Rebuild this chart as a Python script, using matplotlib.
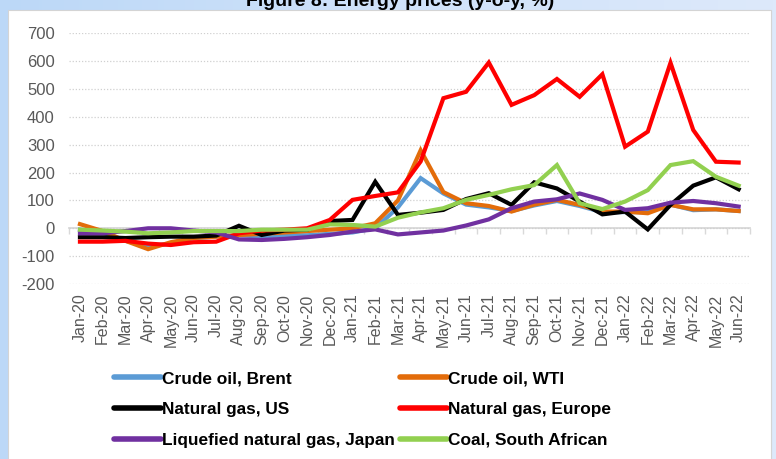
import numpy as np
import matplotlib
matplotlib.use("Agg")
import matplotlib.pyplot as plt
from matplotlib.colors import LinearSegmentedColormap
from matplotlib.patches import Rectangle
from matplotlib.lines import Line2D

plt.rcParams['font.family'] = ['Liberation Sans', 'DejaVu Sans']
plt.rcParams['axes.unicode_minus'] = False

months = ["Jan-20", "Feb-20", "Mar-20", "Apr-20", "May-20", "Jun-20", "Jul-20", "Aug-20",
          "Sep-20", "Oct-20", "Nov-20", "Dec-20", "Jan-21", "Feb-21", "Mar-21", "Apr-21",
          "May-21", "Jun-21", "Jul-21", "Aug-21", "Sep-21", "Oct-21", "Nov-21", "Dec-21",
          "Jan-22", "Feb-22", "Mar-22", "Apr-22", "May-22", "Jun-22"]

crude_brent = [-5, -15, -45, -65, -55, -35, -30, -25, -30, -25, -25, -20, -15, 0, 75,
               180, 125, 85, 75, 62, 82, 98, 80, 58, 58, 58, 85, 65, 68, 62]
crude_wti = [15, -10, -45, -75, -50, -35, -30, -24, -20, -15, -10, -5, 0, 18, 100,
             280, 130, 90, 80, 60, 85, 102, 84, 60, 60, 54, 84, 68, 68, 62]
gas_us = [-32, -32, -35, -32, -30, -30, -26, 9, -24, -8, -5, 26, 30, 167, 48,
          56, 66, 105, 126, 84, 165, 143, 96, 50, 60, -4, 84, 153, 183, 140]
gas_europe = [-48, -48, -45, -55, -60, -50, -48, -18, -8, -5, 0, 30, 102, 116, 129,
              240, 467, 490, 595, 443, 478, 536, 472, 553, 293, 347, 594, 353, 239, 236]
lng_japan = [-18, -18, -10, 0, 0, -8, -15, -40, -42, -38, -32, -24, -12, -4, -22,
             -15, -8, 10, 32, 72, 96, 104, 125, 102, 66, 72, 92, 98, 90, 78]
coal_sa = [-5, -8, -12, -18, -15, -10, -10, -10, -5, -5, -5, 14, 12, 6, 38,
           57, 72, 102, 120, 140, 155, 227, 90, 69, 96, 137, 227, 241, 185, 153]

series = [
    ("Crude oil, Brent", crude_brent, "#5b9bd5"),
    ("Crude oil, WTI", crude_wti, "#e36c0a"),
    ("Natural gas, US", gas_us, "#000000"),
    ("Natural gas, Europe", gas_europe, "#ff0000"),
    ("Liquefied natural gas, Japan", lng_japan, "#7030a0"),
    ("Coal, South African", coal_sa, "#92d050"),
]
yticks = list(range(-200, 701, 100))

W, H = 776, 459
fig = plt.figure(figsize=(W / 100, H / 100), dpi=100)

# background gradient
bgax = fig.add_axes([0, 0, 1, 1], zorder=-10)
grad = np.linspace(0, 1, 256).reshape(1, -1)
cmap = LinearSegmentedColormap.from_list("bg", ["#bcd8f7", "#cfe2fa", "#dde9fb"])
bgax.imshow(grad, aspect='auto', extent=[0, 1, 0, 1], cmap=cmap)
bgax.set_axis_off()

# white panel
fig.patches.append(Rectangle((8 / W, -0.02), (771 - 8) / W, 1 - 10 / H + 0.02,
                             transform=fig.transFigure, facecolor='white',
                             edgecolor='#d4d4d4', lw=0.8, zorder=-5))

ax = fig.add_axes([68.6 / W, 1 - 284 / H, (750 - 68.6) / W, (284 - 33.3) / H])
ax.set_facecolor('none')
x = np.arange(len(months))
for name, vals, col in series:
    ax.plot(x, vals, color=col, lw=3.0, solid_joinstyle='miter', zorder=3, label=name)

ax.set_xlim(-0.5, len(months) - 0.5)
ax.set_ylim(yticks[0], yticks[-1])
ax.set_yticks(yticks)
ax.set_xticks(x)
ax.set_xticklabels(months, rotation=90)
ax.tick_params(axis='x', length=0, pad=7, labelsize=11.5, labelcolor='#595959')
ax.tick_params(axis='y', length=0, pad=10, labelsize=12, labelcolor='#595959')
for s in ax.spines.values():
    s.set_visible(False)
ax.grid(axis='y', color='#d0d0d0', lw=0.9, linestyle=(0, (1, 1.5)))
ax.set_axisbelow(True)

# zero axis line with category boundary ticks
zfrac = (0 - yticks[0]) / (yticks[-1] - yticks[0])
sec = ax.secondary_xaxis(zfrac)
sec.set_xticks(np.arange(-0.5, len(months), 1.0))
sec.set_xticklabels([])
sec.tick_params(axis='x', direction='out', length=4, width=1, color='#d9d9d9')
for s in sec.spines.values():
    s.set_color('#d9d9d9')
    s.set_linewidth(1.3)

fig.text(0.515, 1 - 6 / H, "Figure 8: Energy prices (y-o-y, %)", ha='center',
         va='baseline', fontsize=14, fontweight='bold', color='#000000')

handles = [Line2D([], [], color=c, lw=4, solid_capstyle='round') for _, _, c in series]
labels = [n for n, _, _ in series]
order = [0, 2, 4, 1, 3, 5]
fig.legend([handles[i] for i in order], [labels[i] for i in order], ncol=2,
           loc='upper left', bbox_to_anchor=(114 / W, 1 - 371 / H), frameon=False,
           prop={'weight': 'bold', 'size': 12.4}, handlelength=2.7, handletextpad=0.1,
           columnspacing=0.3, labelspacing=0.92, borderpad=0, borderaxespad=0)

fig.savefig("out.png", dpi=100)
